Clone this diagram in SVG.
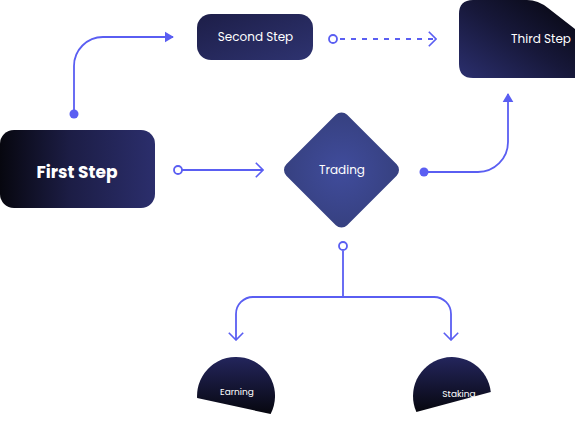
<svg xmlns="http://www.w3.org/2000/svg" width="575" height="435" viewBox="0 0 575 435">
<defs>
<linearGradient id="gFirst" x1="0" y1="0" x2="1" y2="0">
<stop offset="0" stop-color="#07070f"/>
<stop offset="0.45" stop-color="#1c1d45"/>
<stop offset="1" stop-color="#2b2e6c"/>
</linearGradient>
<linearGradient id="gSecond" x1="0" y1="0" x2="1" y2="1">
<stop offset="0" stop-color="#1d1e48"/>
<stop offset="1" stop-color="#2e3370"/>
</linearGradient>
<linearGradient id="gThird" x1="1" y1="0" x2="0" y2="1">
<stop offset="0" stop-color="#06060e"/>
<stop offset="0.5" stop-color="#17183a"/>
<stop offset="1" stop-color="#2b2f6e"/>
</linearGradient>
<radialGradient id="gTrade" cx="0.5" cy="0.5" r="0.7">
<stop offset="0" stop-color="#404c9c"/>
<stop offset="1" stop-color="#36407f"/>
</radialGradient>
<linearGradient id="gHalf" x1="0" y1="0" x2="0" y2="1">
<stop offset="0" stop-color="#23255c"/>
<stop offset="1" stop-color="#07070f"/>
</linearGradient>
<marker id="tri" viewBox="0 0 10 12" refX="9" refY="6" markerWidth="9" markerHeight="12" markerUnits="userSpaceOnUse" orient="auto">
<path d="M0,0 L10,6 L0,12 Z" fill="#5a5ef2"/>
</marker>
<marker id="chev" viewBox="0 0 10 18" refX="9" refY="9" markerWidth="9" markerHeight="17" markerUnits="userSpaceOnUse" orient="auto">
<path d="M1,1 L9,9 L1,17" fill="none" stroke="#5a5ef2" stroke-width="1.8"/>
</marker>
</defs>
<style>
.ln{fill:none;stroke:#5a5ef2;stroke-width:1.8}
.dash{stroke-dasharray:5 6}
.hole{fill:#ffffff;stroke:#5a5ef2;stroke-width:1.8}
.dot{fill:#5a5ef2}
.t{fill:#ffffff;font-family:"Poppins","Inter","Open Sans",sans-serif;text-anchor:middle}
</style>
<g id="connectors">
<path class="ln" d="M74,114 V66 A29,29 0 0 1 103,37 H173" marker-end="url(#tri)"/>
<circle class="dot" cx="74" cy="114" r="4.5"/>
<path class="ln dash" d="M340,39 H436" marker-end="url(#chev)"/>
<circle class="hole" cx="333" cy="39" r="4"/>
<path class="ln" d="M182,170 H263" marker-end="url(#chev)"/>
<circle class="hole" cx="178" cy="170" r="4"/>
<path class="ln" d="M424,172 H478 A30,30 0 0 0 508,142 V94" marker-end="url(#tri)"/>
<circle class="dot" cx="424" cy="172" r="4.5"/>
<path class="ln" d="M343,251 V297"/>
<path class="ln" d="M343,297 H253 A17,17 0 0 0 236,314 V340" marker-end="url(#chev)"/>
<path class="ln" d="M343,297 H434 A17,17 0 0 1 451,314 V340" marker-end="url(#chev)"/>
<circle class="hole" cx="343" cy="246" r="4"/>
</g>
<g id="first-step">
<rect x="0" y="130" width="155" height="78" rx="14" fill="url(#gFirst)"/>
<text class="t" x="77" y="178" font-size="17" font-weight="700">First Step</text>
</g>
<g id="second-step">
<rect x="197" y="14" width="116" height="46" rx="14" fill="url(#gSecond)"/>
<text class="t" x="255.5" y="41" font-size="12">Second Step</text>
</g>
<g id="third-step">
<path d="M473,0 H527 Q538,0 548,8 L575,29 V78 H473 Q459,78 459,64 V14 Q459,0 473,0 Z" fill="url(#gThird)"/>
<text class="t" x="541" y="43" font-size="12">Third Step</text>
</g>
<g id="trading">
<rect x="298.5" y="127" width="86" height="86" rx="8" transform="rotate(45 341.5 170)" fill="url(#gTrade)"/>
<text class="t" x="342" y="174" font-size="12">Trading</text>
</g>
<g id="earning">
<path d="M197.1,398 A39,39 0 1 1 270.6,414 Z" fill="url(#gHalf)"/>
<text class="t" x="237" y="395" font-size="9">Earning</text>
</g>
<g id="staking">
<path d="M416.4,412 A39,39 0 1 1 490.8,392 Z" fill="url(#gHalf)"/>
<text class="t" x="459" y="397" font-size="9">Staking</text>
</g>
</svg>
